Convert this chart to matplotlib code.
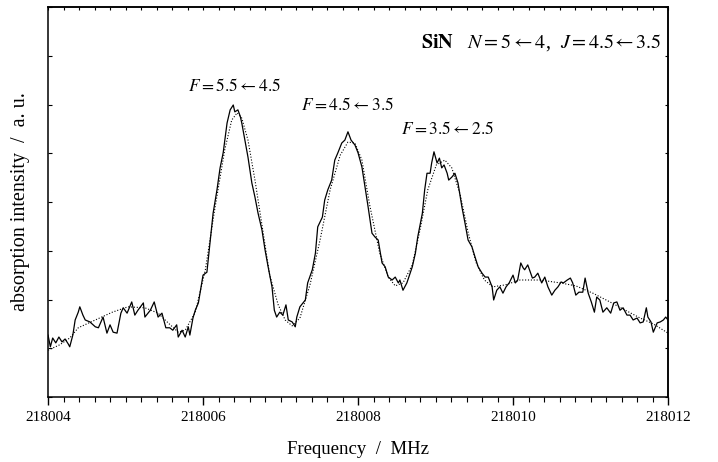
import matplotlib
matplotlib.use("Agg")
import matplotlib.pyplot as plt
from matplotlib.ticker import MultipleLocator

plt.rcParams["font.family"] = ["Liberation Serif", "DejaVu Serif"]
plt.rcParams["mathtext.fontset"] = "stix"

# measured spectrum: frequency offset from 218004 MHz, intensity in a.u.
obs_df = [0.00, 0.03, 0.06, 0.10, 0.14, 0.18, 0.22, 0.26, 0.28, 0.32, 0.35, 0.39, 0.41, 0.45,
          0.48, 0.54, 0.61, 0.65, 0.71, 0.76, 0.80, 0.84, 0.89, 0.94, 0.97, 1.02, 1.08, 1.12,
          1.16, 1.23, 1.25, 1.32, 1.37, 1.42, 1.47, 1.52, 1.57, 1.61, 1.66, 1.68, 1.73, 1.77,
          1.81, 1.83, 1.87, 1.90, 1.94, 2.00, 2.05, 2.09, 2.13, 2.18, 2.22, 2.26, 2.31, 2.35,
          2.39, 2.41, 2.45, 2.48, 2.50, 2.54, 2.58, 2.63, 2.67, 2.71, 2.76, 2.80, 2.84, 2.89,
          2.92, 2.95, 2.99, 3.03, 3.07, 3.10, 3.15, 3.19, 3.21, 3.25, 3.32, 3.35, 3.41, 3.45,
          3.48, 3.54, 3.57, 3.61, 3.66, 3.70, 3.74, 3.79, 3.83, 3.87, 3.91, 3.96, 4.00, 4.05,
          4.09, 4.13, 4.18, 4.22, 4.26, 4.31, 4.35, 4.39, 4.44, 4.48, 4.52, 4.54, 4.58, 4.63,
          4.70, 4.74, 4.77, 4.83, 4.86, 4.89, 4.93, 4.95, 4.98, 5.02, 5.05, 5.08, 5.11, 5.15,
          5.17, 5.21, 5.25, 5.29, 5.34, 5.38, 5.42, 5.47, 5.51, 5.55, 5.60, 5.64, 5.68, 5.73,
          5.75, 5.79, 5.83, 5.87, 5.91, 5.95, 6.00, 6.03, 6.06, 6.10, 6.13, 6.15, 6.19, 6.25,
          6.28, 6.32, 6.37, 6.41, 6.45, 6.50, 6.54, 6.58, 6.62, 6.65, 6.70, 6.74, 6.77, 6.81,
          6.85, 6.90, 6.93, 6.97, 7.01, 7.05, 7.08, 7.12, 7.16, 7.21, 7.26, 7.30, 7.34, 7.38,
          7.42, 7.47, 7.51, 7.55, 7.60, 7.64, 7.68, 7.72, 7.74, 7.78, 7.81, 7.86, 7.90, 7.94,
          7.97, 8.00]
obs_int = [1.27, 1.03, 1.21, 1.11, 1.23, 1.13, 1.19, 1.09, 1.03, 1.27, 1.58, 1.74, 1.85, 1.68,
           1.58, 1.54, 1.44, 1.42, 1.64, 1.31, 1.48, 1.33, 1.31, 1.72, 1.83, 1.72, 1.95, 1.68,
           1.78, 1.93, 1.64, 1.78, 1.95, 1.64, 1.72, 1.42, 1.42, 1.37, 1.48, 1.23, 1.37, 1.23,
           1.44, 1.27, 1.62, 1.78, 1.93, 2.50, 2.56, 3.16, 3.77, 4.25, 4.70, 5.01, 5.62, 5.89,
           5.99, 5.85, 5.89, 5.76, 5.62, 5.27, 4.92, 4.39, 4.10, 3.77, 3.43, 3.02, 2.67, 2.26,
           1.78, 1.64, 1.74, 1.68, 1.89, 1.58, 1.54, 1.44, 1.64, 1.85, 1.99, 2.34, 2.61, 2.95,
           3.49, 3.69, 4.04, 4.25, 4.45, 4.86, 5.01, 5.21, 5.27, 5.44, 5.27, 5.17, 5.01, 4.72,
           4.31, 3.90, 3.36, 3.28, 3.22, 2.75, 2.67, 2.46, 2.40, 2.46, 2.34, 2.40, 2.19, 2.34,
           2.67, 2.95, 3.28, 3.77, 4.25, 4.59, 4.59, 4.80, 5.03, 4.80, 4.90, 4.70, 4.76, 4.59,
           4.45, 4.51, 4.59, 4.39, 3.90, 3.57, 3.22, 3.08, 2.87, 2.67, 2.54, 2.46, 2.46, 2.26,
           1.99, 2.19, 2.26, 2.13, 2.26, 2.34, 2.50, 2.34, 2.40, 2.75, 2.65, 2.61, 2.71, 2.44,
           2.46, 2.54, 2.34, 2.46, 2.26, 2.09, 2.19, 2.26, 2.36, 2.34, 2.40, 2.44, 2.34, 2.09,
           2.15, 2.15, 2.44, 2.13, 1.95, 1.74, 2.05, 1.99, 1.74, 1.83, 1.72, 1.93, 1.95, 1.78,
           1.83, 1.68, 1.68, 1.58, 1.62, 1.52, 1.54, 1.83, 1.64, 1.54, 1.33, 1.52, 1.54, 1.58,
           1.64, 1.58]

# fitted profile
fit_df = [0.00, 0.15, 0.28, 0.39, 0.61, 0.83, 1.03, 1.25, 1.42, 1.55, 1.68, 1.77, 1.90, 2.03,
          2.15, 2.28, 2.37, 2.44, 2.50, 2.58, 2.67, 2.77, 2.86, 2.97, 3.06, 3.15, 3.25, 3.38,
          3.51, 3.64, 3.77, 3.87, 3.96, 4.05, 4.15, 4.28, 4.39, 4.48, 4.58, 4.70, 4.80, 4.90,
          5.01, 5.12, 5.21, 5.32, 5.42, 5.52, 5.63, 5.74, 5.90, 6.09, 6.35, 6.61, 6.81, 7.03,
          7.25, 7.45, 7.64, 7.81, 8.00]
fit_int = [0.96, 1.07, 1.21, 1.42, 1.58, 1.74, 1.85, 1.83, 1.72, 1.52, 1.33, 1.37, 1.74, 2.61,
           3.84, 5.07, 5.68, 5.83, 5.72, 5.27, 4.45, 3.43, 2.50, 1.89, 1.58, 1.46, 1.62, 2.30,
           3.22, 4.25, 4.96, 5.23, 5.21, 4.86, 3.94, 2.95, 2.46, 2.28, 2.34, 2.71, 3.43, 4.25,
           4.76, 4.86, 4.70, 4.14, 3.38, 2.77, 2.40, 2.26, 2.30, 2.40, 2.40, 2.34, 2.28, 2.13,
           1.95, 1.78, 1.62, 1.50, 1.31]

f0 = 218004
obs_f = [f0 + d for d in obs_df]
fit_f = [f0 + d for d in fit_df]

line_labels = [r"$F = 5.5 \leftarrow 4.5$", r"$F = 4.5 \leftarrow 3.5$", r"$F = 3.5 \leftarrow 2.5$"]
label_f = [218006.41, 218007.86, 218009.16]
label_y = [6.36, 5.97, 5.48]

fig = plt.figure(figsize=(7.18, 4.62), dpi=100)
ax = fig.add_axes([0.0669, 0.1407, 0.8635, 0.8441])

ax.plot(obs_f, obs_int, color="black", lw=0.9)
ax.plot(fit_f, fit_int, color="black", lw=0.8, ls=(0, (1, 1.6)))

for txt, xf, yv in zip(line_labels, label_f, label_y):
    ax.text(xf, yv, txt, ha="center", va="center", fontsize=12.5)

ax.text(218011.92, 7.28, r"$\mathbf{SiN}$   $N = 5 \leftarrow 4$,  $J = 4.5\!\leftarrow 3.5$",
        ha="right", va="center", fontsize=14.5)

ax.set_xlim(218004, 218012)
ax.set_ylim(0, 8)
ax.xaxis.set_major_locator(MultipleLocator(2))
ax.xaxis.set_minor_locator(MultipleLocator(0.2))
ax.xaxis.set_major_formatter(matplotlib.ticker.FormatStrFormatter("%d"))
ax.yaxis.set_major_locator(MultipleLocator(1))
ax.tick_params(axis="x", which="major", direction="out", length=6, width=1, labelsize=11, pad=4)
ax.tick_params(axis="x", which="minor", direction="out", length=3.5, width=0.8)
ax.tick_params(axis="y", which="major", direction="in", length=3, width=0.8, labelleft=False)

top = ax.secondary_xaxis("top")
top.xaxis.set_major_locator(MultipleLocator(0.2))
top.tick_params(direction="in", length=2, width=0.8, labeltop=False)
right = ax.secondary_yaxis("right")
right.yaxis.set_major_locator(MultipleLocator(1))
right.tick_params(direction="in", length=2, width=0.8, labelright=False)

for sp in ax.spines.values():
    sp.set_linewidth(1.1)
top.spines["top"].set_linewidth(1.1)
right.spines["right"].set_linewidth(1.1)

ax.set_xlabel("Frequency  /  MHz", fontsize=13.5, labelpad=12)
ax.set_ylabel("absorption intensity  /  a. u.", fontsize=14.5, labelpad=13)

fig.savefig("out.png", dpi=100)
